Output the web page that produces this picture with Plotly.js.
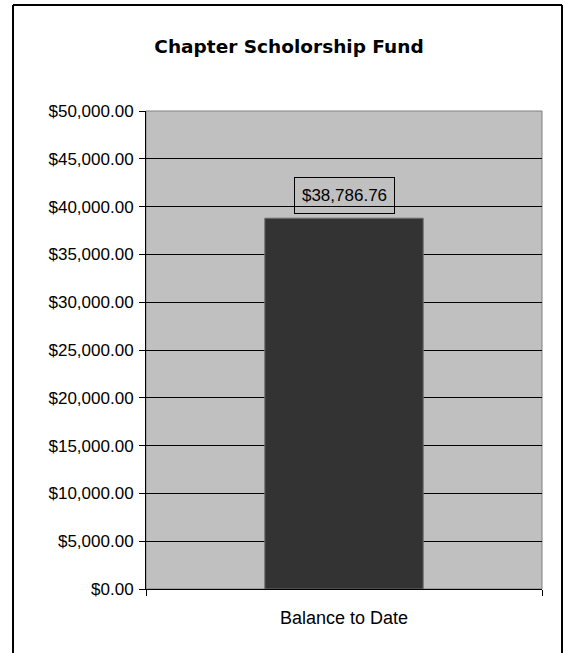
<!DOCTYPE html>
<html>
<head>
<meta charset="utf-8">
<script src="https://cdn.plot.ly/plotly-3.0.1.min.js"></script>
<style>html,body{margin:0;padding:0;background:#fff;}#chart{width:565px;height:653px;}</style>
</head>
<body>
<div id="chart"></div>
<script>
const categories = ["Balance to Date"];
const balances = [38786.76];
const yTickValues = [0, 5000, 10000, 15000, 20000, 25000, 30000, 35000, 40000, 45000, 50000];
const chartTitle = "Chapter Scholorship Fund";

const W = 565, H = 653;
const L = 146, R = 23, T = 111, B = 64;
const pw = W - L - R, ph = H - T - B;
const px = v => (v - L) / pw;
const py = v => (H - B - v) / ph;

const trace = {
  type: "bar",
  x: categories,
  y: balances,
  width: 0.4,
  marker: {color: "#333333", line: {color: "#6e6e6e", width: 1}},
  hoverinfo: "none"
};

const layout = {
  width: W, height: H,
  margin: {l: L, r: R, t: T, b: B, pad: 0},
  paper_bgcolor: "#ffffff",
  plot_bgcolor: "#c0c0c0",
  showlegend: false,
  font: {family: "Liberation Sans, Arial, sans-serif", size: 17, color: "#000"},
  title: {
    text: chartTitle,
    font: {family: "DejaVu Sans, sans-serif", size: 18.5, color: "#000", weight: "bold"},
    x: 289 / W, xanchor: "center", xref: "container",
    y: 1 - 47 / H, yanchor: "middle", yref: "container"
  },
  xaxis: {
    type: "category",
    range: [-0.5, 0.5],
    showgrid: false,
    showline: true, linecolor: "#000", linewidth: 1,
    ticks: "outside", ticklen: 6, tickcolor: "#000", tickwidth: 1,
    tickson: "boundaries",
    ticklabelstandoff: 12,
    tickfont: {size: 18},
    fixedrange: true
  },
  yaxis: {
    range: [0, 50000],
    tickvals: yTickValues,
    tickformat: "$,.2f",
    showgrid: true, gridcolor: "#000", gridwidth: 1,
    zeroline: false,
    showline: true, linecolor: "#000", linewidth: 1,
    ticks: "outside", ticklen: 6, tickcolor: "#000", tickwidth: 1,
    ticklabelstandoff: 2,
    tickfont: {size: 17},
    fixedrange: true
  },
  shapes: [
    {type: "rect", xref: "paper", yref: "paper", x0: 0, x1: 1, y0: 0, y1: 1,
     line: {color: "#808080", width: 1}, layer: "below"},
    {type: "line", xref: "paper", yref: "paper", x0: px(13), x1: px(13), y0: py(5), y1: py(660),
     line: {color: "#000", width: 2}},
    {type: "line", xref: "paper", yref: "paper", x0: px(562), x1: px(562), y0: py(5), y1: py(660),
     line: {color: "#000", width: 2}},
    {type: "line", xref: "paper", yref: "paper", x0: px(13), x1: px(562), y0: py(5), y1: py(5),
     line: {color: "#000", width: 2}}
  ],
  annotations: [{
    x: categories[0], y: balances[0], xref: "x", yref: "y",
    text: "$" + balances[0].toLocaleString("en-US", {minimumFractionDigits: 2, maximumFractionDigits: 2}),
    showarrow: false,
    xanchor: "center", yanchor: "bottom", yshift: 4,
    width: 99, height: 35,
    bordercolor: "#000", borderwidth: 1, borderpad: 0,
    font: {size: 17, color: "#000"}
  }]
};

Plotly.newPlot("chart", [trace], layout, {displayModeBar: false, staticPlot: true});
</script>
</body>
</html>
